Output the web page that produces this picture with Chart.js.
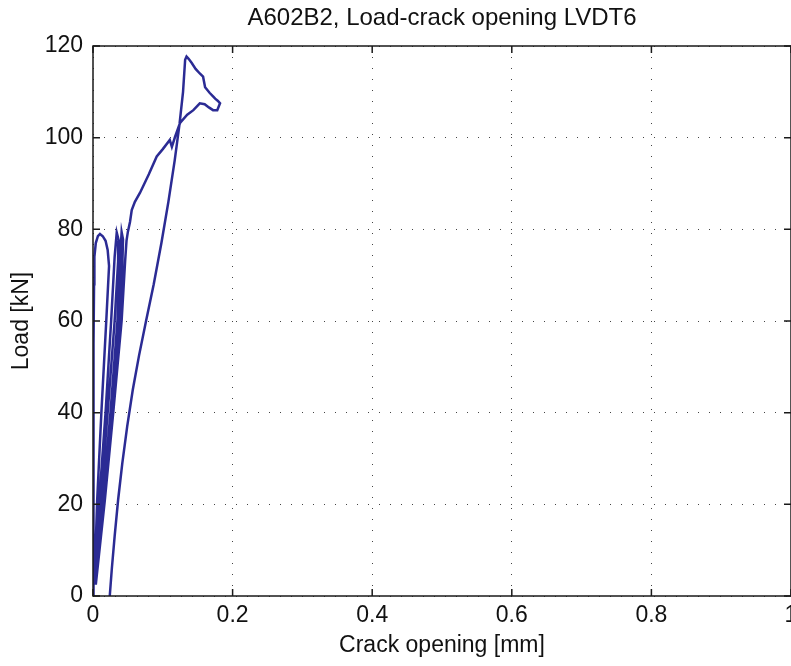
<!DOCTYPE html>
<html>
<head>
<meta charset="utf-8">
<script src="https://cdn.jsdelivr.net/npm/chart.js@4.4.1/dist/chart.umd.min.js"></script>
<style>
  html, body { margin: 0; padding: 0; background: #fff; overflow: hidden; }
  #wrap { width: 791px; height: 666px; }
</style>
</head>
<body>
<div id="wrap"><canvas id="myChart" width="791" height="666"></canvas></div>
<script>
// crack opening [mm] and load [kN]
var crackOpening = [
  0, 0.0005, 0.001, 0.0015, 0.002, 0.004, 0.007, 0.01, 0.014, 0.018, 0.021, 0.023,
  0.019, 0.012, 0.006, 0.002,
  0.009, 0.018, 0.026, 0.031, 0.034, 0.037,
  0.036, 0.031, 0.021, 0.011, 0.003,
  0.014, 0.025, 0.035, 0.039, 0.041, 0.043,
  0.042, 0.038, 0.027, 0.015, 0.004,
  0.017, 0.029, 0.041, 0.046, 0.048, 0.05, 0.053, 0.0555, 0.06, 0.0674, 0.08, 0.0913,
  0.1, 0.11, 0.113, 0.1176, 0.1247, 0.135, 0.1438, 0.153, 0.16, 0.166, 0.172, 0.178, 0.182,
  0.179, 0.175, 0.172, 0.167, 0.1606, 0.1577, 0.153, 0.147, 0.1415, 0.137, 0.134,
  0.132, 0.129, 0.124, 0.117, 0.108, 0.098, 0.087, 0.076, 0.066, 0.057, 0.049, 0.042, 0.036, 0.031, 0.027, 0.024
];
var load = [
  0, 30, 55, 68, 74, 77, 78.5, 79, 78.5, 77.5, 75.5, 72,
  60, 40, 21, 2.5,
  21, 40, 60, 74, 79.3, 77.5,
  73, 60, 40, 21, 2.5,
  21, 40, 60, 74, 79.4, 77.8,
  72, 60, 40, 21, 2.5,
  21, 40, 60, 73, 77.5, 79.5, 81.6, 84.2, 86, 88, 92, 95.9,
  97.5, 99.5, 98, 100.2, 103.2, 105, 106, 107.5, 107.3, 106.6, 106, 106, 107.5,
  108, 108.5, 109, 109.8, 111, 113.3, 114, 115, 116.3, 117.2, 117.7,
  117, 110, 103, 95, 86, 77, 68, 60, 52.5, 45, 37, 29, 21, 13, 6, 0
];
var xTicks = [0, 0.2, 0.4, 0.6, 0.8, 1];
var yTicks = [0, 20, 40, 60, 80, 100, 120];

var points = crackOpening.map(function(x, i) {
  return { x: x, y: load[i] };
});

var fontFamily = '"Liberation Sans", Arial, Helvetica, sans-serif';
var fontSize = 23;

// MATLAB style box with inward ticks on all four sides
var boxPlugin = {
  id: 'matlabBox',
  afterDraw: function(chart) {
    var ctx = chart.ctx;
    var a = chart.chartArea;
    var xs = chart.scales.x, ys = chart.scales.y;
    var len = 7;
    ctx.save();
    ctx.strokeStyle = '#1a1a1a';
    ctx.lineWidth = 1.5;
    ctx.strokeRect(a.left, a.top, a.right - a.left, a.bottom - a.top);
    ctx.beginPath();
    xTicks.forEach(function(v) {
      var px = xs.getPixelForValue(v);
      ctx.moveTo(px, a.bottom); ctx.lineTo(px, a.bottom - len);
      ctx.moveTo(px, a.top); ctx.lineTo(px, a.top + len);
    });
    yTicks.forEach(function(v) {
      var py = ys.getPixelForValue(v);
      ctx.moveTo(a.left, py); ctx.lineTo(a.left + len, py);
      ctx.moveTo(a.right, py); ctx.lineTo(a.right - len, py);
    });
    ctx.stroke();
    ctx.restore();
  }
};

var ctx = document.getElementById('myChart').getContext('2d');
var myChart = new Chart(ctx, {
  type: 'scatter',
  data: {
    datasets: [{
      label: 'LVDT6',
      data: points,
      showLine: true,
      borderColor: '#2b2b94',
      borderWidth: 2.5,
      pointRadius: 0,
      tension: 0
    }]
  },
  options: {
    responsive: false,
    animation: false,
    layout: { padding: 0 },
    plugins: {
      legend: { display: false },
      tooltip: { enabled: false },
      title: {
        display: true,
        text: 'A602B2, Load-crack opening LVDT6',
        fullSize: false,
        color: '#111',
        font: { family: fontFamily, size: 24, weight: 'normal' },
        padding: { top: 4, bottom: 13.2 }
      }
    },
    scales: {
      x: {
        type: 'linear',
        min: 0,
        max: 1,
        afterBuildTicks: function(scale) {
          scale.ticks = xTicks.map(function(v) { return { value: v }; });
        },
        afterFit: function(scale) {
          scale.height = 70;
          scale.paddingLeft = 0;
          scale.paddingRight = 0;
        },
        ticks: {
          color: '#111',
          padding: 6,
          maxRotation: 0,
          autoSkip: false,
          font: { family: fontFamily, size: fontSize },
          callback: function(v) { return String(+v.toFixed(1)); }
        },
        grid: { color: '#444', lineWidth: 1, drawTicks: false },
        border: { display: false, dash: [1, 10] },
        title: {
          display: true,
          text: 'Crack opening [mm]',
          color: '#111',
          font: { family: fontFamily, size: fontSize },
          padding: { top: 0, bottom: 7 }
        }
      },
      y: {
        type: 'linear',
        min: 0,
        max: 120,
        afterBuildTicks: function(scale) {
          scale.ticks = yTicks.map(function(v) { return { value: v }; });
        },
        afterFit: function(scale) {
          scale.width = 93;
        },
        ticks: {
          color: '#111',
          padding: 10,
          autoSkip: false,
          font: { family: fontFamily, size: fontSize }
        },
        grid: { color: '#444', lineWidth: 1, drawTicks: false },
        border: { display: false, dash: [1, 10] },
        title: {
          display: true,
          text: 'Load [kN]',
          color: '#111',
          font: { family: fontFamily, size: fontSize },
          padding: { top: 8, bottom: 0 }
        }
      }
    }
  },
  plugins: [boxPlugin]
});
</script>
</body>
</html>
